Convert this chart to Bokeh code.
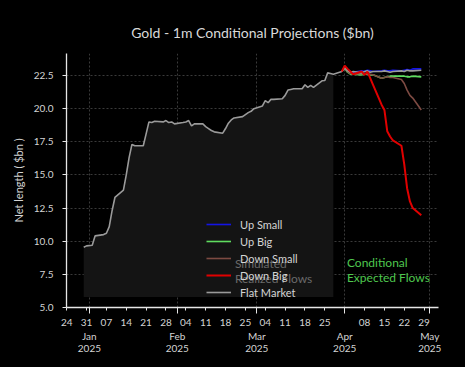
import pandas as pd
from bokeh.plotting import figure
from bokeh.models import (FixedTicker, LinearAxis, Range1d, Legend, LegendItem,
                          NumeralTickFormatter)
from bokeh.embed import file_html
from bokeh.resources import INLINE
from bokeh.core.properties import value

# ---------------- data ----------------
hist_dates = ["2024-12-30", "2024-12-31", "2025-01-02", "2025-01-03", "2025-01-06", "2025-01-07",
              "2025-01-08", "2025-01-09", "2025-01-10", "2025-01-13", "2025-01-14", "2025-01-15",
              "2025-01-16", "2025-01-17", "2025-01-20", "2025-01-21", "2025-01-22", "2025-01-23",
              "2025-01-24", "2025-01-27", "2025-01-28", "2025-01-29", "2025-01-30", "2025-01-31",
              "2025-02-03", "2025-02-04", "2025-02-05", "2025-02-06", "2025-02-07", "2025-02-10",
              "2025-02-11", "2025-02-12", "2025-02-13", "2025-02-14", "2025-02-17", "2025-02-18",
              "2025-02-19", "2025-02-20", "2025-02-21", "2025-02-24", "2025-02-25", "2025-02-26",
              "2025-02-27", "2025-02-28", "2025-03-03", "2025-03-04", "2025-03-05", "2025-03-06",
              "2025-03-07", "2025-03-10", "2025-03-11", "2025-03-12", "2025-03-13", "2025-03-14",
              "2025-03-17", "2025-03-18", "2025-03-19", "2025-03-20", "2025-03-21", "2025-03-24",
              "2025-03-25", "2025-03-26", "2025-03-27", "2025-03-28", "2025-03-31"]
hist_vals = [9.55, 9.65, 9.70, 10.40, 10.50, 10.60,
             11.10, 12.30, 13.30, 13.85, 15.00, 16.30,
             17.30, 17.20, 17.20, 18.10, 19.00, 18.95,
             19.05, 19.00, 19.10, 18.95, 19.00, 18.85,
             18.95, 19.00, 19.10, 18.70, 18.85, 18.85,
             18.65, 18.50, 18.35, 18.25, 18.15, 18.50,
             18.90, 19.15, 19.30, 19.40, 19.55, 19.70,
             19.80, 20.00, 20.20, 20.60, 20.45, 20.70,
             20.70, 20.75, 21.00, 21.40, 21.45, 21.50,
             21.50, 21.80, 21.60, 21.75, 21.60, 22.10,
             22.12, 22.70, 22.65, 22.60, 22.80]
realized_end = "2025-03-28"

proj_dates = ["2025-03-31", "2025-04-01", "2025-04-02", "2025-04-03", "2025-04-04", "2025-04-07",
              "2025-04-08", "2025-04-09", "2025-04-10", "2025-04-11", "2025-04-14", "2025-04-15",
              "2025-04-16", "2025-04-17", "2025-04-18", "2025-04-21", "2025-04-22", "2025-04-23",
              "2025-04-24", "2025-04-25", "2025-04-28"]
up_small = [22.80, 23.10, 22.90, 22.80, 22.75, 22.85, 22.80, 22.90, 22.85, 22.80, 22.85, 22.90,
            22.85, 22.85, 22.90, 22.85, 22.90, 22.95, 22.90, 23.00, 23.00]
up_big = [22.80, 23.05, 22.75, 22.60, 22.60, 22.55, 22.60, 22.60, 22.55, 22.55, 22.30, 22.35,
          22.40, 22.45, 22.45, 22.45, 22.45, 22.40, 22.40, 22.45, 22.40]
down_small = [22.80, 23.10, 22.80, 22.65, 22.60, 22.65, 22.60, 22.65, 22.60, 22.55, 22.30, 22.35,
              22.40, 22.35, 22.35, 22.20, 21.90, 21.40, 21.00, 20.80, 19.90]
down_big = [22.80, 23.25, 23.00, 22.80, 22.60, 22.80, 22.55, 22.80, 22.30, 21.80, 20.30, 19.90,
            18.30, 17.90, 17.60, 17.20, 15.80, 14.00, 13.00, 12.50, 11.95]
flat_proj = [22.80, 23.10, 22.85, 22.75, 22.80, 22.70, 22.80, 22.85, 22.75, 22.80, 22.80, 22.85,
             22.80, 22.75, 22.80, 22.85, 22.80, 22.90, 22.85, 22.85, 22.90]

series_names = ["Up Small", "Up Big", "Down Small", "Down Big", "Flat Market"]
y_ticks = [5.0, 7.5, 10.0, 12.5, 15.0, 17.5, 20.0, 22.5]

week_ticks = pd.date_range("2024-12-24", "2025-04-29", freq="7D")
month_ticks = pd.date_range("2025-01-01", "2025-05-01", freq="MS")


def ms(d):
    return pd.DatetimeIndex(pd.to_datetime(d)).as_unit("ns").asi8 // 10**6


hx = ms(hist_dates)
px = ms(proj_dates)
wk = ms(week_ticks)
mo = ms(month_ticks)
week_labels = {int(t): ("" if d in set(month_ticks) else d.strftime("%d")) for t, d in zip(wk, week_ticks)}
month_labels = {int(t): d.strftime("%b") + "\n" + d.strftime("%Y") for t, d in zip(mo, month_ticks)}

x_min = min(hx.min(), px.min())
x_max = max(hx.max(), px.max())
pad = 0.051 * (x_max - x_min)

FONT = "Lato"
TXT = "#d4d4d4"

p = figure(width=465, height=367, output_backend="svg", toolbar_location=None,
           x_axis_type="datetime",
           x_range=Range1d(x_min - pad, x_max + pad), y_range=Range1d(5.0, 24.16),
           min_border_left=66, min_border_right=27, min_border_top=53, min_border_bottom=60,
           background_fill_color="black", border_fill_color="black", outline_line_color=None,
           title="Gold - 1m Conditional Projections ($bn)")
p.title.align = "center"
p.title.text_font = FONT
p.title.text_font_size = "14px"
p.title.text_font_style = "normal"
p.title.text_color = "#d9d9d9"
p.title.standoff = 25

# realized area
fill_mask = hx <= ms([realized_end])[0]
p.varea(x=hx[fill_mask], y1=5.8, y2=[v for v, m in zip(hist_vals, fill_mask) if m], color="#141414")

# lines
colors = {"Up Small": "#1414e6", "Up Big": "#5fdc5f", "Down Small": "#7d4a42",
          "Down Big": "#e00000", "Flat Market": "#9a9a9a"}
vals = {"Up Small": up_small, "Up Big": up_big, "Down Small": down_small, "Down Big": down_big}
renderers = {}
for name in ["Up Small", "Up Big", "Down Small"]:
    renderers[name] = p.line(px, vals[name], line_color=colors[name], line_width=1.6)
flat_h = p.line(hx, hist_vals, line_color=colors["Flat Market"], line_width=1.6)
flat_p = p.line(px, flat_proj, line_color=colors["Flat Market"], line_width=1.6)
renderers["Flat Market"] = flat_h
renderers["Down Big"] = p.line(px, down_big, line_color=colors["Down Big"], line_width=2.0)

# annotations
p.text(x=ms(["2025-02-21 07:00"]), y=[7.74], text=["Simulated\nRealized Flows"],
       text_font=value(FONT), text_font_size="12px", text_color="#6a6a6a",
       text_align="left", text_baseline="middle", text_line_height=1.0)
p.text(x=ms(["2025-04-01 19:00"]), y=[7.83], text=["Conditional\nExpected Flows"],
       text_font=value(FONT), text_font_size="12px", text_color="#4fc84f",
       text_align="left", text_baseline="middle", text_line_height=1.0)

legend = Legend(items=[LegendItem(label=n, renderers=[renderers[n]]) for n in series_names],
                location=(135, 3), background_fill_alpha=0, border_line_alpha=0,
                label_text_color=TXT, label_text_font=FONT, label_text_font_size="11px",
                glyph_width=25, glyph_height=14, label_height=14, spacing=3, padding=5,
                margin=0, label_standoff=9)
p.add_layout(legend)

# grids
p.xgrid.ticker = FixedTicker(ticks=list(mo))
p.ygrid.ticker = FixedTicker(ticks=y_ticks)
for g in (p.xgrid, p.ygrid):
    g.grid_line_color = "#3a3a3a"
    g.grid_line_dash = "2 2"
    g.grid_line_width = 1

# x axis (weekly days)
xa = p.xaxis[0]
xa.ticker = FixedTicker(ticks=list(wk), minor_ticks=list(mo))
xa.major_label_overrides = week_labels
xa.major_tick_out = 3
xa.major_tick_in = 0
xa.minor_tick_out = 6
xa.minor_tick_in = 0
xa.major_label_standoff = 5

# month axis
xa2 = LinearAxis(ticker=FixedTicker(ticks=list(mo)), major_label_overrides=month_labels,
                 axis_line_color=None, major_tick_line_color=None, minor_tick_line_color=None,
                 major_label_standoff=1, major_tick_out=0, major_tick_in=0)
xa2.major_label_text_line_height = 1.05
p.add_layout(xa2, "below")

ya = p.yaxis[0]
ya.ticker = FixedTicker(ticks=y_ticks)
ya.formatter = NumeralTickFormatter(format="0.0")
ya.axis_label = "Net length ( $bn )"
ya.axis_label_text_font = FONT
ya.axis_label_text_font_size = "11px"
ya.axis_label_text_font_style = "normal"
ya.axis_label_text_color = TXT
ya.axis_label_standoff = 6
ya.major_tick_out = 4
ya.major_tick_in = 0
ya.minor_tick_line_color = None
ya.major_label_standoff = 9

for ax in (xa, xa2, ya):
    ax.major_label_text_font = FONT
    ax.major_label_text_font_size = "10px"
    ax.major_label_text_color = TXT
for ax in (xa, ya):
    ax.axis_line_color = "#e6e6e6"
    ax.axis_line_width = 1.3
    ax.major_tick_line_color = "#e6e6e6"
    ax.minor_tick_line_color = "#e6e6e6"
    ax.major_tick_line_width = 1
    ax.minor_tick_line_width = 1

html = file_html(p, INLINE, title="Gold - 1m Conditional Projections")
html = html.replace("</head>", "<style>html,body{background:#000;margin:0;}</style></head>")
open("out.html", "w").write(html)
